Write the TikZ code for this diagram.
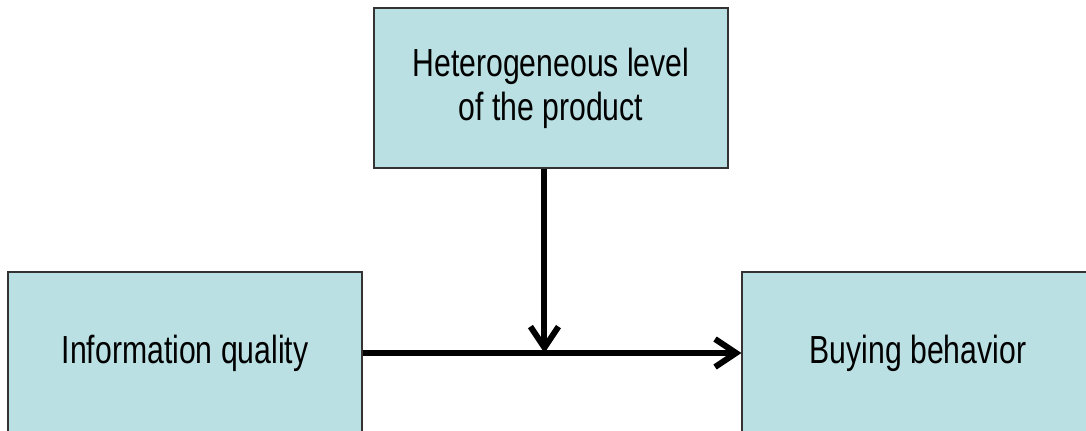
\documentclass[tikz,border=0pt]{standalone}
\usepackage{fontspec}
\setmainfont{Liberation Sans}[FakeStretch=0.77]
\usepackage{tikz}
\usetikzlibrary{positioning}
\usetikzlibrary{calc}
\usetikzlibrary{arrows.meta}
\definecolor{boxblue}{RGB}{186,224,227}

\begin{document}
\begin{tikzpicture}[box/.style={draw=black!80,line width=0.7pt,fill=boxblue,shape=rectangle,align=center,font=\fontsize{22.3}{25}\selectfont,inner sep=0pt},
  link/.style={line width=3.4pt,-{Straight Barb[length=0.42cm,width=0.56cm]}}]
  \useasboundingbox (0,0) rectangle (21.72,8.6);

  \node[box,minimum width=7.08cm,minimum height=3.24cm] (iq) at (3.70,1.54) {Information quality};
  \node[box,minimum width=7.04cm,minimum height=3.24cm] (bb) at (18.36,1.54) {Buying behavior};
  \node[box,minimum width=7.08cm,minimum height=3.2cm] (het) at (11.02,6.84) {Heterogeneous level\\of the product};

  \coordinate (mid) at ($(iq.east)!0.48!(bb.west)$);

  \draw[link] (iq.east) -- (bb.west);
  \draw[link] (het.south -| mid) -- (mid);
\end{tikzpicture}
\end{document}
